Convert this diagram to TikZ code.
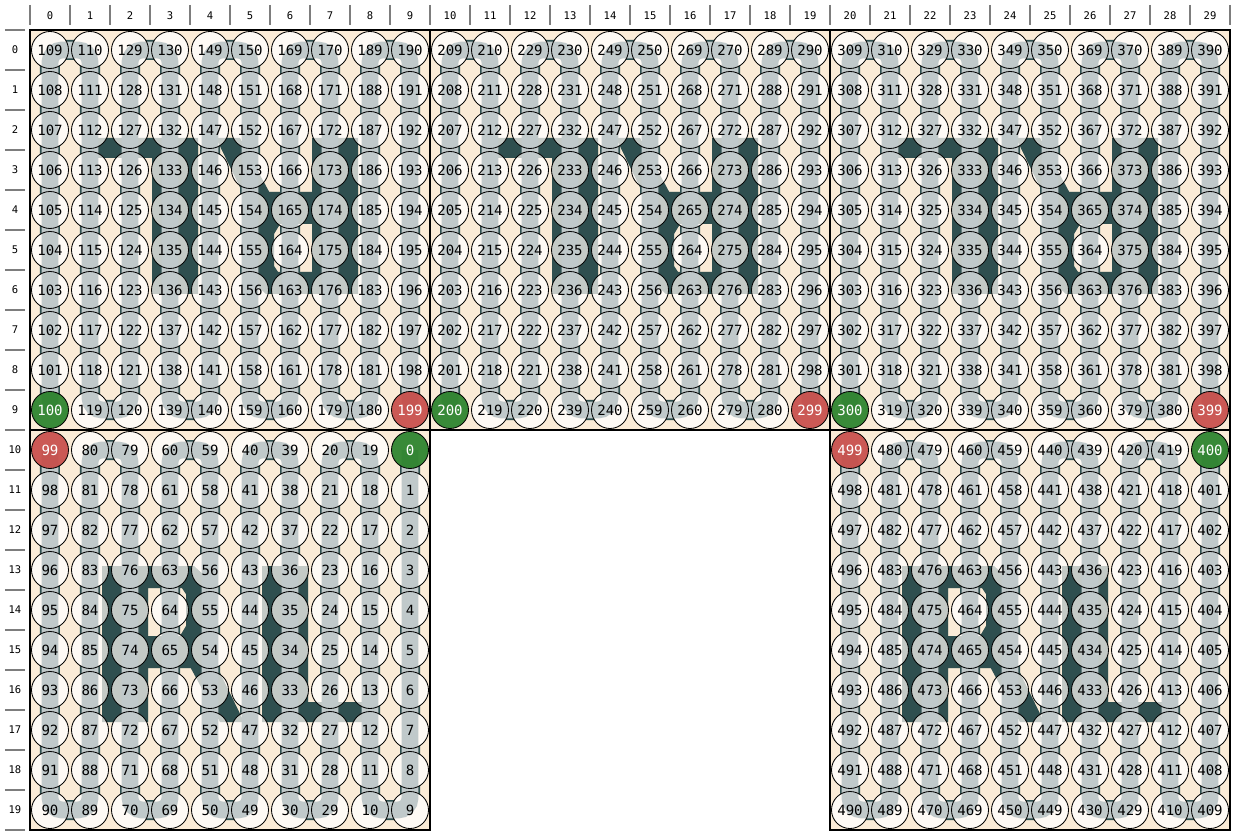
\documentclass[tikz,border=0pt]{standalone}
\usepackage{fontspec}
\setmonofont{DejaVu Sans Mono}
\usepackage{tikz}
\usetikzlibrary{positioning}
\definecolor{panelbg}{RGB}{250,235,215}
\definecolor{ink}{RGB}{47,79,79}
\definecolor{wirecol}{RGB}{192,201,202}
\definecolor{ledoff}{RGB}{254,250,245}
\definecolor{datain}{RGB}{36,126,36}
\definecolor{dataout}{RGB}{198,72,68}
\definecolor{tickgray}{RGB}{125,125,125}

\pgfdeclarelayer{back}
\pgfdeclarelayer{fills}
\pgfdeclarelayer{wires}
\pgfsetlayers{back,fills,wires,main}

% "RL" as shown on one panel, in cell units
\newcommand{\glyphRL}{%
  (1.3,-2.9) -- (3.6,-2.9) -- (4.15,-3.4) -- (4.15,-4.35) -- (3.9,-4.85)
  -- (4.85,-6.8) -- (4.25,-6.8) -- (3.52,-5.45) -- (2.45,-5.45)
  -- (2.45,-6.8) -- (1.3,-6.8) -- cycle
  (2.45,-3.45) -- (3.3,-3.45) -- (3.4,-3.6) -- (3.4,-4.4) -- (3.25,-4.65)
  -- (2.45,-4.65) -- cycle
  (5.3,-2.9) -- (6.45,-2.9) -- (6.45,-6.3) -- (8.05,-6.3) -- (8.05,-6.8)
  -- (5.3,-6.8) -- cycle}

\begin{document}
\begin{tikzpicture}[
  led/.style={
    circle, draw=black, line width=0.6pt,
    minimum size=0.925cm, inner sep=0pt,
    font=\fontsize{10}{12}\selectfont\ttfamily
  },
  axislabel/.style={font=\fontsize{7.5}{9}\selectfont\ttfamily, inner sep=0pt},
  tickmark/.style={draw=tickgray, line width=1.4pt},
  panelfill/.style={fill=panelbg},
  panelframe/.style={draw=black, line width=1.3pt},
  darkwire/.style={draw=ink, line width=0.5cm, rounded corners=0.3cm},
  wire/.style={draw=wirecol, line width=0.42cm, rounded corners=0.3cm}
]
\useasboundingbox (-1.25,1.25) rectangle (29.625,-19.625);

% axes
\foreach \i in {0,...,29}
  \node[axislabel] (col\i) at (\i,0.86) {\i};
\foreach \i in {0,...,19}
  \node[axislabel] (row\i) at (-0.875,-\i) {\i};
\foreach \i in {0,...,30}
  \draw[tickmark] (\i-0.5,1.125) -- (\i-0.5,0.625);
\foreach \i in {0,...,20}
  \draw[tickmark] (-1.125,0.5-\i) -- (-0.625,0.5-\i);

% LEDs, serpentine order inside each panel
\foreach \b/\cx/\top/\rev in {0/0/10/1, 1/0/0/0, 2/10/0/0, 3/20/0/0, 4/20/10/1} {
  \foreach \k in {0,...,99} {
    \pgfmathtruncatemacro\idx{100*\b+\k}
    \pgfmathtruncatemacro\strip{int(\k/10)}
    \pgfmathtruncatemacro\pos{mod(\k,10)}
    \pgfmathtruncatemacro\col{\cx+(\rev==1 ? 9-\strip : \strip)}
    \pgfmathtruncatemacro\row{\top+(mod(\strip+\rev,2)==1 ? \pos : 9-\pos)}
    \def\ledfill{none}\def\ledtext{black}
    \ifnum\k=0 \def\ledfill{datain}\def\ledtext{white}\fi
    \ifnum\k=99 \def\ledfill{dataout}\def\ledtext{white}\fi
    \node[led, fill=\ledfill, fill opacity=0.9, text opacity=1, text=\ledtext]
      (led\idx) at (\col,-\row) {\idx};
  }
}

\begin{pgfonlayer}{back}
  \foreach \px/\py in {0/0, 10/0, 20/0, 0/-10, 20/-10}
    \fill[panelfill] (\px-0.5,\py+0.5) rectangle (\px+9.5,\py-9.5);
  \foreach \px in {0,20} {
    \begin{scope}[shift={(\px,-10)}]
      \fill[ink, even odd rule] \glyphRL;
    \end{scope}
  }
  \foreach \px in {0,10,20} {
    \begin{scope}[shift={(\px,0)}, rotate around={180:(4.5,-4.5)}]
      \fill[ink, even odd rule] \glyphRL;
    \end{scope}
  }
\end{pgfonlayer}

\begin{pgfonlayer}{fills}
  \foreach \i in {0,...,499}
    \fill[ledoff] (led\i.center) circle[radius=0.4625cm];
  \foreach \px in {0,20} {
    \begin{scope}[shift={(\px,-10)}]
      \fill[ink, fill opacity=0.28, even odd rule] \glyphRL;
    \end{scope}
  }
  \foreach \px in {0,10,20} {
    \begin{scope}[shift={(\px,0)}, rotate around={180:(4.5,-4.5)}]
      \fill[ink, fill opacity=0.28, even odd rule] \glyphRL;
    \end{scope}
  }
\end{pgfonlayer}

% data line through each panel
\foreach \b in {0,...,4} {
  \pgfmathtruncatemacro\first{100*\b}
  \pgfmathtruncatemacro\second{100*\b+1}
  \pgfmathtruncatemacro\last{100*\b+99}
  \begin{pgfonlayer}{back}
    \draw[darkwire] (led\first.center)
      \foreach \i in {\second,...,\last} { -- (led\i.center) };
  \end{pgfonlayer}
  \begin{pgfonlayer}{wires}
    \draw[wire] (led\first.center)
      \foreach \i in {\second,...,\last} { -- (led\i.center) };
  \end{pgfonlayer}
}

% panel borders
\foreach \px/\py in {0/0, 10/0, 20/0, 0/-10, 20/-10}
  \draw[panelframe] (\px-0.5,\py+0.5) rectangle (\px+9.5,\py-9.5);
\end{tikzpicture}
\end{document}
